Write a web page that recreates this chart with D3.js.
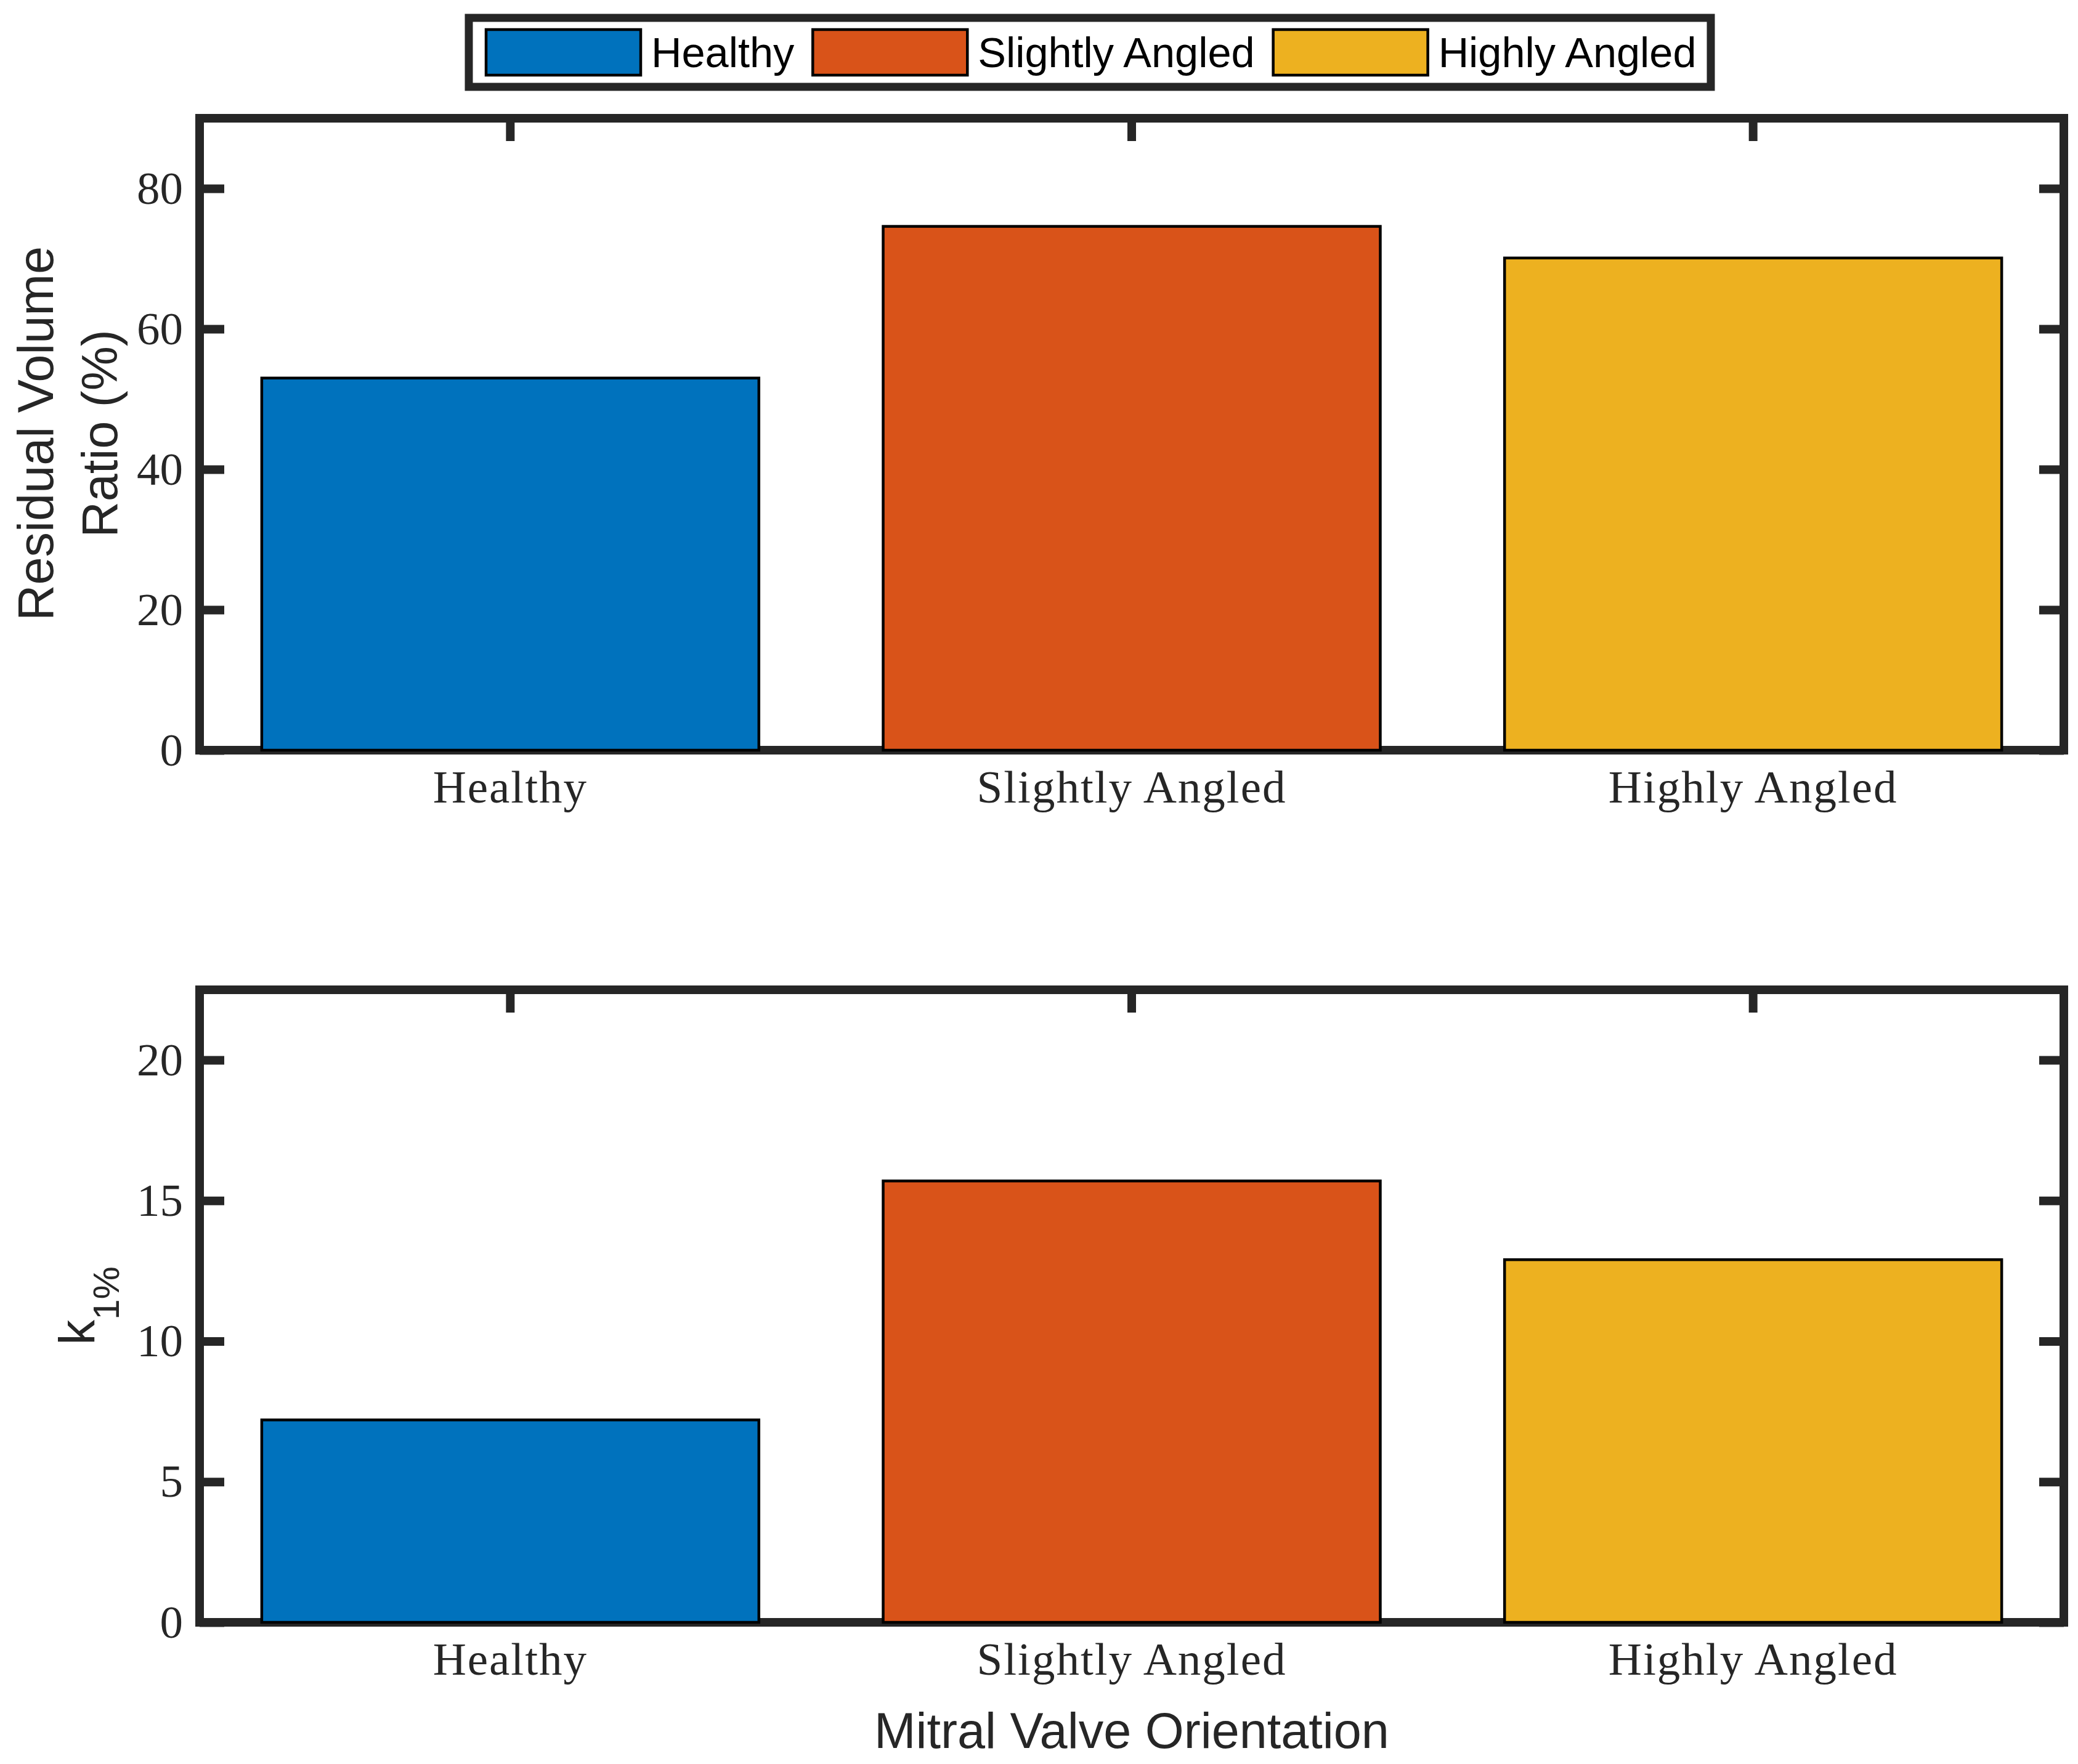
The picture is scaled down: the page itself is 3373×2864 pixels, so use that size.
<!DOCTYPE html>
<html>
<head>
<meta charset="utf-8">
<script src="https://cdn.jsdelivr.net/npm/d3@7"></script>
<style>
  body { margin: 0; background: #fff; }
</style>
</head>
<body>
<div id="chart"></div>
<script>
const categories = ["Healthy", "Slightly Angled", "Highly Angled"];
const residualVolumeRatio = [53.0, 74.6, 70.1];
const k1Percent = [7.2, 15.7, 12.9];
const residualTicks = [0, 20, 40, 60, 80];
const kTicks = [0, 5, 10, 15, 20];
const barColors = ["#0072BD", "#D95319", "#EDB120"];

const width = 3373;
const height = 2864;
const axisColor = "#262626";
const axisWidth = 14;
const tickLen = 40;

const svg = d3.select("#chart")
    .append("svg")
    .attr("width", width)
    .attr("height", height)
    .attr("viewBox", `0 0 ${width} ${height}`);

const left = 324;
const right = 3350;

const xScale = d3.scaleBand()
    .domain(categories)
    .range([left, right])
    .paddingInner(0.2)
    .paddingOuter(0.1);

const drawPanel = (values, yMax, ticks, top, bottom) => {
    const yScale = d3.scaleLinear()
        .domain([0, yMax])
        .range([bottom, top]);

    const g = svg.append("g");

    // box
    g.append("rect")
        .attr("x", left)
        .attr("y", top)
        .attr("width", right - left)
        .attr("height", bottom - top)
        .attr("fill", "none")
        .attr("stroke", axisColor)
        .attr("stroke-width", axisWidth);

    // left axis
    g.append("g")
        .attr("transform", `translate(${left}, 0)`)
        .call(d3.axisLeft(yScale).tickValues(ticks).tickSize(-tickLen).tickPadding(27))
        .call(a => a.select(".domain").remove());

    // right axis
    g.append("g")
        .attr("transform", `translate(${right}, 0)`)
        .call(d3.axisRight(yScale).tickValues(ticks).tickSize(-tickLen).tickFormat(""))
        .call(a => a.select(".domain").remove());

    // top axis
    g.append("g")
        .attr("transform", `translate(0, ${top})`)
        .call(d3.axisTop(xScale).tickSize(-tickLen + 3).tickFormat(""))
        .call(a => a.select(".domain").remove());

    // bottom axis
    const bottomAxis = g.append("g")
        .attr("class", "axis-x")
        .attr("transform", `translate(0, ${bottom})`)
        .call(d3.axisBottom(xScale).tickSize(-tickLen + 3))
        .call(a => a.select(".domain").remove());

    bottomAxis.selectAll("text")
        .attr("y", 85)
        .attr("dy", 0)
        .style("letter-spacing", "2px");

    g.selectAll(".tick line")
        .attr("stroke", axisColor)
        .attr("stroke-width", axisWidth);

    g.selectAll(".tick text")
        .attr("fill", axisColor)
        .style("font-family", "'Liberation Serif', 'Times New Roman', serif")
        .style("font-size", "75px");

    g.selectAll(".bar")
        .data(values)
        .join("rect")
        .attr("class", "bar")
        .attr("x", (d, i) => xScale(categories[i]))
        .attr("y", d => yScale(d))
        .attr("width", xScale.bandwidth())
        .attr("height", d => yScale(0) - yScale(d))
        .attr("fill", (d, i) => barColors[i])
        .attr("stroke", "#000")
        .attr("stroke-width", 4.5);

    return g;
};

const topPanel = drawPanel(residualVolumeRatio, 90, residualTicks, 192, 1218);
const bottomPanel = drawPanel(k1Percent, 22.5, kTicks, 1607, 2634);

const sansFont = "'Liberation Sans', Arial, sans-serif";

// y labels
svg.append("text")
    .attr("transform", `translate(86, 704) rotate(-90)`)
    .attr("text-anchor", "middle")
    .attr("fill", axisColor)
    .style("font-family", sansFont)
    .style("font-size", "81px")
    .text("Residual Volume");

svg.append("text")
    .attr("transform", `translate(190, 704) rotate(-90)`)
    .attr("text-anchor", "middle")
    .attr("fill", axisColor)
    .style("font-family", sansFont)
    .style("font-size", "81px")
    .text("Ratio (%)");

const kLabel = svg.append("text")
    .attr("transform", `translate(153, 2120) rotate(-90)`)
    .attr("text-anchor", "middle")
    .attr("fill", axisColor)
    .style("font-family", sansFont)
    .style("font-size", "82px");
kLabel.append("tspan").text("k");
kLabel.append("tspan")
    .attr("dy", 40)
    .style("font-size", "60px")
    .text("1%");

// x title
svg.append("text")
    .attr("x", (left + right) / 2)
    .attr("y", 2838)
    .attr("text-anchor", "middle")
    .attr("fill", axisColor)
    .style("font-family", sansFont)
    .style("font-size", "81px")
    .text("Mitral Valve Orientation");

// legend
const legend = svg.append("g");

legend.append("rect")
    .attr("x", 761)
    .attr("y", 29)
    .attr("width", 2777 - 761)
    .attr("height", 141 - 29)
    .attr("fill", "#fff")
    .attr("stroke", axisColor)
    .attr("stroke-width", 13);

let cursor = 789;
categories.forEach((name, i) => {
    legend.append("rect")
        .attr("x", cursor)
        .attr("y", 48)
        .attr("width", 251)
        .attr("height", 74)
        .attr("fill", barColors[i])
        .attr("stroke", "#000")
        .attr("stroke-width", 4.5);
    cursor += 251 + 17;
    const t = legend.append("text")
        .attr("x", cursor)
        .attr("y", 85)
        .attr("dominant-baseline", "central")
        .attr("fill", "#000")
        .style("font-family", sansFont)
        .style("font-size", "68.5px")
        .text(name);
    cursor += t.node().getComputedTextLength() + 30;
});
</script>
</body>
</html>
